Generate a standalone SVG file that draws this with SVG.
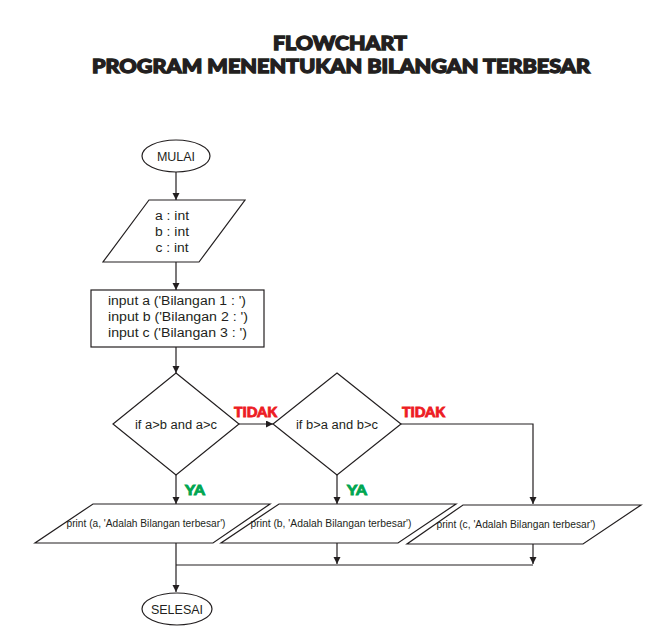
<svg xmlns="http://www.w3.org/2000/svg" width="661" height="631" viewBox="0 0 661 631">
<defs>
<marker id="ah" markerWidth="8" markerHeight="8" refX="7" refY="3.5" orient="auto" markerUnits="userSpaceOnUse">
<path d="M0,0 L7,3.5 L0,7 Z" fill="#231f20"/>
</marker>
<style>
.shape{fill:#fff;stroke:#231f20;stroke-width:1.2}
.conn{fill:none;stroke:#231f20;stroke-width:1.2}
.t{font-family:"Liberation Sans","DejaVu Sans",sans-serif;fill:#231f20;font-size:12.5px}
.tp{font-family:"Liberation Sans","DejaVu Sans",sans-serif;fill:#231f20;font-size:10px}
.title{font-family:Lato,"DejaVu Sans",sans-serif;font-weight:900;fill:#231f20;stroke:#231f20;stroke-width:1.3;font-size:19px;text-anchor:middle}
.no{font-family:Lato,"DejaVu Sans",sans-serif;font-weight:900;fill:#ed1c24;stroke:#ed1c24;stroke-width:0.8;font-size:13px}
.yes{font-family:Lato,"DejaVu Sans",sans-serif;font-weight:900;fill:#00a651;stroke:#00a651;stroke-width:0.8;font-size:13px}
</style>
</defs>
<rect width="661" height="631" fill="#fff"/>
<g id="title">
<text class="title" x="340" y="50" textLength="134" lengthAdjust="spacingAndGlyphs">FLOWCHART</text>
<text class="title" x="341" y="73" textLength="498" lengthAdjust="spacingAndGlyphs">PROGRAM MENENTUKAN BILANGAN TERBESAR</text>
</g>
<g id="connectors">
<line class="conn" x1="176" y1="172" x2="176" y2="200" marker-end="url(#ah)"/>
<line class="conn" x1="176" y1="262" x2="176" y2="290" marker-end="url(#ah)"/>
<line class="conn" x1="176" y1="347" x2="176" y2="373" marker-end="url(#ah)"/>
<line class="conn" x1="239" y1="424" x2="273" y2="424" marker-end="url(#ah)"/>
<polyline class="conn" points="401,424 533,424 533,504" marker-end="url(#ah)"/>
<line class="conn" x1="176" y1="475" x2="176" y2="504" marker-end="url(#ah)"/>
<line class="conn" x1="337" y1="475" x2="337" y2="504" marker-end="url(#ah)"/>
<line class="conn" x1="337" y1="543" x2="337" y2="564" marker-end="url(#ah)"/>
<line class="conn" x1="533" y1="544" x2="533" y2="564" marker-end="url(#ah)"/>
<line class="conn" x1="176" y1="565" x2="533" y2="565"/>
<line class="conn" x1="176" y1="543" x2="176" y2="592" marker-end="url(#ah)"/>
</g>
<g id="labels">
<text class="no" x="234" y="417" textLength="43" lengthAdjust="spacingAndGlyphs">TIDAK</text>
<text class="no" x="402" y="417" textLength="43" lengthAdjust="spacingAndGlyphs">TIDAK</text>
<text class="yes" x="185" y="495" textLength="20" lengthAdjust="spacingAndGlyphs">YA</text>
<text class="yes" x="347" y="495" textLength="20" lengthAdjust="spacingAndGlyphs">YA</text>
</g>
<g id="mulai">
<ellipse class="shape" cx="176" cy="156" rx="34" ry="16"/>
<text class="t" x="176" y="160.5" text-anchor="middle">MULAI</text>
</g>
<g id="deklarasi">
<polygon class="shape" points="149,200 245,200 199,262 103,262"/>
<text class="t" x="172" y="220" text-anchor="middle" textLength="34" lengthAdjust="spacingAndGlyphs">a : int</text>
<text class="t" x="172" y="236" text-anchor="middle" textLength="34" lengthAdjust="spacingAndGlyphs">b : int</text>
<text class="t" x="172" y="252" text-anchor="middle" textLength="33" lengthAdjust="spacingAndGlyphs">c : int</text>
</g>
<g id="input">
<rect class="shape" x="91" y="290" width="173" height="57"/>
<text class="t" x="108" y="305" textLength="138" lengthAdjust="spacingAndGlyphs">input a ('Bilangan 1 : ')</text>
<text class="t" x="108" y="321" textLength="140" lengthAdjust="spacingAndGlyphs">input b ('Bilangan 2 : ')</text>
<text class="t" x="108" y="337" textLength="139" lengthAdjust="spacingAndGlyphs">input c ('Bilangan 3 : ')</text>
</g>
<g id="kondisi1">
<polygon class="shape" points="176,373 239,424 176,475 113,424"/>
<text class="t" x="176" y="428.5" text-anchor="middle" textLength="82" lengthAdjust="spacingAndGlyphs">if a&gt;b and a&gt;c</text>
</g>
<g id="kondisi2">
<polygon class="shape" points="337,373 401,424 337,475 273,424"/>
<text class="t" x="337" y="428.5" text-anchor="middle" textLength="82" lengthAdjust="spacingAndGlyphs">if b&gt;a and b&gt;c</text>
</g>
<g id="print-a">
<polygon class="shape" points="93,504 270,504 213,543 35,543"/>
<text class="tp" x="146" y="527" text-anchor="middle" textLength="159" lengthAdjust="spacingAndGlyphs">print (a, 'Adalah Bilangan terbesar')</text>
</g>
<g id="print-b">
<polygon class="shape" points="279,504 456,504 398,543 221,543"/>
<text class="tp" x="331" y="527" text-anchor="middle" textLength="161" lengthAdjust="spacingAndGlyphs">print (b, 'Adalah Bilangan terbesar')</text>
</g>
<g id="print-c">
<polygon class="shape" points="463,505 641,505 583,544 407,544"/>
<text class="tp" x="516" y="528" text-anchor="middle" textLength="159" lengthAdjust="spacingAndGlyphs">print (c, 'Adalah Bilangan terbesar')</text>
</g>
<g id="selesai">
<ellipse class="shape" cx="177" cy="609" rx="35" ry="16"/>
<text class="t" x="177" y="613.5" text-anchor="middle">SELESAI</text>
</g>
</svg>
